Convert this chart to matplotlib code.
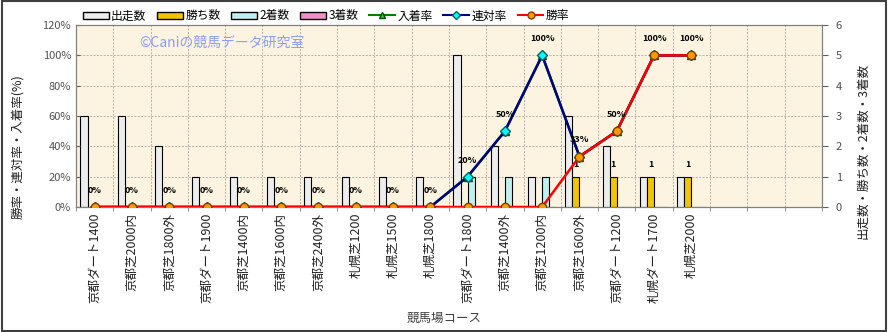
import numpy as np
import matplotlib
matplotlib.use('Agg')
from matplotlib import pyplot as plt
from matplotlib.patches import Rectangle, Patch
from matplotlib.lines import Line2D

plt.rcParams['font.family'] = ['Noto Sans CJK JP', 'DejaVu Sans']

courses = ['京都ダート1400', '京都芝2000内', '京都芝1800外', '京都ダート1900',
           '京都芝1400内', '京都芝1600内', '京都芝2400外', '札幌芝1200',
           '札幌芝1500', '札幌芝1800', '京都ダート1800', '京都芝1400外',
           '京都芝1200内', '京都芝1600外', '京都ダート1200', '札幌ダート1700',
           '札幌芝2000']
n_slots = 20  # chart has 3 empty slots on the right

starts = [3, 3, 2, 1, 1, 1, 1, 1, 1, 1, 5, 2, 1, 3, 2, 1, 1]
wins = [0, 0, 0, 0, 0, 0, 0, 0, 0, 0, 0, 0, 0, 1, 1, 1, 1]
seconds = [0, 0, 0, 0, 0, 0, 0, 0, 0, 0, 1, 1, 1, 0, 0, 0, 0]
thirds = [0, 0, 0, 0, 0, 0, 0, 0, 0, 0, 0, 0, 0, 0, 0, 0, 0]

win_rate = [0, 0, 0, 0, 0, 0, 0, 0, 0, 0, 0, 0, 0, 33.3, 50, 100, 100]
rentai_rate = [0, 0, 0, 0, 0, 0, 0, 0, 0, 0, 20, 50, 100, 33.3, 50, 100, 100]
place_rate = [0, 0, 0, 0, 0, 0, 0, 0, 0, 0, 20, 50, 100, 33.3, 50, 100, 100]


def main():
    fig = plt.figure(figsize=(8.89, 3.32), dpi=100)
    fig.patches.append(Rectangle((0.002, 0.003), 0.995, 0.993, transform=fig.transFigure,
                                 fill=False, edgecolor='#404040', linewidth=1.5))

    # ax2 = counts (bars, right side), ax = rates (lines, left side)
    ax2 = fig.add_axes([0.0855, 0.3765, 0.839, 0.548])
    ax = ax2.twinx()
    ax2.yaxis.tick_right()
    ax.yaxis.tick_left()
    ax2.set_facecolor('#FCF3E0')
    ax.patch.set_visible(False)

    x = np.arange(len(courses))
    w = 0.19
    bar_kw = dict(edgecolor='black', linewidth=0.8, zorder=2)
    ax2.bar(x - 1.5 * w, starts, w, color='#EDEDED', **bar_kw)
    ax2.bar(x - 0.5 * w, wins, w, color='#F5C400', **bar_kw)
    ax2.bar(x + 0.5 * w, seconds, w, color='#BFEFEF', **bar_kw)
    ax2.bar(x + 1.5 * w, thirds, w, color='#F090C8', **bar_kw)
    for i, v in enumerate(wins):
        if v > 0:
            ax2.annotate(str(v), (x[i] - 0.5 * w, v), xytext=(0, 8.5), textcoords='offset points',
                         ha='center', va='center', fontsize=6.5, fontweight='bold', zorder=6)

    ax.plot(x, place_rate, color='#008000', lw=1.8, marker='^', ms=6,
            mfc='#33CC33', mec='#005000', zorder=3)
    ax.plot(x, rentai_rate, color='#000080', lw=1.8, marker='D', ms=5,
            mfc='#00FFFF', mec='#006060', zorder=4)
    ax.plot(x, win_rate, color='#FF0000', lw=1.8, marker='o', ms=6,
            mfc='#FF9900', mec='#804000', zorder=5)
    for i, v in enumerate(place_rate):
        ax.annotate('%d%%' % round(v), (x[i], v), xytext=(0, 12), textcoords='offset points',
                    ha='center', va='center', fontsize=6.5, fontweight='bold', zorder=6)

    ax.set_xlim(-0.5, n_slots - 0.5)
    ax.set_ylim(0, 120)
    ax2.set_ylim(0, 6)
    ax.set_yticks(np.arange(0, 121, 20))
    ax.set_yticklabels(['%d%%' % t for t in range(0, 121, 20)])
    ax2.set_yticks(np.arange(0, 7, 1))

    ax2.set_xticks(x)
    ax2.set_xticklabels(courses, rotation=90, fontsize=9, color='#202020')
    ax2.set_xticks(np.arange(-0.5, n_slots, 1), minor=True)
    ax2.tick_params(axis='x', which='major', length=0, pad=4)
    ax2.tick_params(axis='x', which='minor', length=3, color='#808080')
    ax2.grid(True, which='minor', axis='x', color='#B4B0A8', linestyle=(0, (2, 1.5)), linewidth=0.7)
    ax2.grid(True, which='major', axis='y', color='#B4B0A8', linestyle=(0, (2, 1.5)), linewidth=0.7)
    ax2.set_axisbelow(True)

    ax.tick_params(axis='y', direction='in', length=3, labelsize=8, labelcolor='#505050', color='#606060')
    ax2.tick_params(axis='y', direction='out', length=4, pad=6, labelsize=8, labelcolor='#505050', color='#606060')
    for a in (ax, ax2):
        for s in a.spines.values():
            s.set_color('#808080')

    ax2.text(0.085, 0.9, '©Caniの競馬データ研究室', transform=ax2.transAxes,
             fontsize=10, color='#8C9CF8', va='center', ha='left', zorder=1)

    fig.text(18 / 889, 1 - 147 / 332, '勝率・連対率・入着率(%)', rotation=90,
             ha='center', va='center', fontsize=9, color='#202020')
    fig.text(863 / 889, 1 - 151 / 332, '出走数・勝ち数・2着数・3着数', rotation=90,
             ha='center', va='center', fontsize=9, color='#202020')
    fig.text(444 / 889, 1 - 318 / 332, '競馬場コース', ha='center', va='center',
             fontsize=9, color='#404040')

    handles = [
        Patch(facecolor='#EDEDED', edgecolor='black', label='出走数'),
        Patch(facecolor='#F5C400', edgecolor='black', label='勝ち数'),
        Patch(facecolor='#BFEFEF', edgecolor='black', label='2着数'),
        Patch(facecolor='#F090C8', edgecolor='black', label='3着数'),
        Line2D([], [], color='#008000', lw=1.5, marker='^', ms=5, mfc='#33CC33', mec='#005000', label='入着率'),
        Line2D([], [], color='#000080', lw=1.5, marker='D', ms=4, mfc='#00FFFF', mec='#006060', label='連対率'),
        Line2D([], [], color='#FF0000', lw=1.5, marker='o', ms=5, mfc='#FF9900', mec='#804000', label='勝率'),
    ]
    fig.legend(handles=handles, loc='center', bbox_to_anchor=(326 / 889, 0.952), ncol=7,
               frameon=False, fontsize=8.5, handlelength=2.2, handleheight=0.6,
               handletextpad=0.2, columnspacing=0.9, borderpad=0)

    fig.savefig('out.png', dpi=100)


if __name__ == "__main__":
    main()
